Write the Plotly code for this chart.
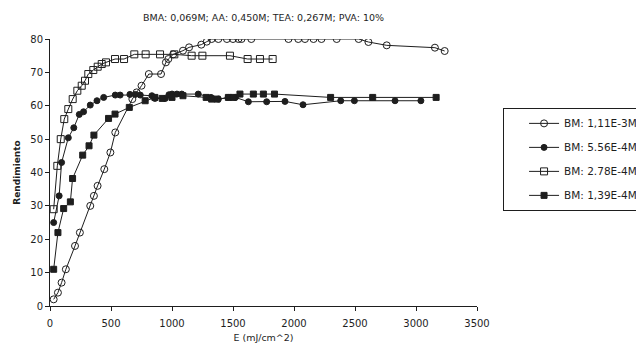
import plotly.graph_objects as go

title_text = "BMA: 0,069M; AA: 0,450M; TEA: 0,267M; PVA: 10%"
series_names = ["BM: 1,11E-3M", "BM: 5.56E-4M", "BM: 2.78E-4M", "BM: 1,39E-4M"]

# BM 1.11E-3M (open circles)
x1 = [30, 65, 95, 130, 205, 245, 330, 360, 390, 445, 495, 535, 675, 710, 750, 810, 910, 950, 970,
      1010, 1090, 1140, 1240, 1285, 1325, 1380, 1450, 1500, 1545, 1570, 1650, 1955, 2035, 2090,
      2160, 2225, 2350, 2530, 2610, 2760, 3155, 3235]
y1 = [2, 4, 7, 11, 18, 22, 30, 33, 36, 41, 46, 52, 62, 64, 66, 69.5, 69.5, 73, 74,
      75.4, 76.5, 77.5, 78.3, 79.2, 80, 80, 80, 80, 80, 80, 80, 80, 80, 80,
      80, 80, 80, 80, 79.1, 78.1, 77.4, 76.4]

# BM 5.56E-4M (filled circles)
x2 = [30, 75, 95, 150, 195, 240, 275, 330, 385, 440, 535, 575, 655, 700, 740, 835, 860, 945, 975,
      1000, 1040, 1080, 1215, 1320, 1380, 1460, 1520, 1626, 1776, 1926, 2074, 2383, 2495, 2828, 3040]
y2 = [25, 33, 43, 50.4, 53.4, 57.4, 58.2, 60.2, 61.5, 62.5, 63.2, 63.2, 63.4, 63.4, 63.2, 63, 62.2, 62.2, 63.3,
      63.5, 63.5, 63.5, 63.5, 62.5, 62, 62.5, 62.5, 61.2, 61.2, 61.3, 60.3, 61.5, 61.5, 61.5, 61.5]

# BM 2.78E-4M (open squares)
x3 = [30, 60, 88, 117, 150, 186, 224, 260, 287, 314, 355, 391, 424, 459, 533, 607, 691, 784,
      902, 1019, 1161, 1249, 1475, 1620, 1721, 1825]
y3 = [29, 42, 50, 56, 59, 62, 64.5, 66, 67.5, 69.5, 70.7, 71.7, 72.5, 73, 74, 74, 75.4, 75.4,
      75.4, 75.4, 75, 75, 75, 74, 74, 74]

# BM 1.39E-4M (filled squares)
x4 = [30, 65, 112, 167, 185, 268, 320, 360, 480, 533, 650, 780, 860, 920, 1000, 1090, 1280, 1325,
      1370, 1462, 1503, 1557, 1667, 1749, 1840, 2300, 2645, 3165]
y4 = [11, 22, 29.2, 31.2, 38.2, 45.2, 48, 51.2, 56.2, 57.5, 59.5, 61.5, 62.5, 62.2, 62.5, 63, 62.5, 62,
      62, 62.5, 62.5, 63.5, 63.5, 63.5, 63.5, 62.5, 62.5, 62.5]

x_ticks = [0, 500, 1000, 1500, 2000, 2500, 3000, 3500]
y_ticks = [0, 10, 20, 30, 40, 50, 60, 70, 80]

ink = "#1e1e1e"
font_family = "DejaVu Sans"

styles = [
    dict(symbol="circle-open", size=7),
    dict(symbol="circle", size=6),
    dict(symbol="square-open", size=7),
    dict(symbol="square", size=6),
]

fig = go.Figure()
for i, (xs, ys) in enumerate([(x1, y1), (x2, y2), (x3, y3), (x4, y4)]):
    st = styles[i]
    fig.add_trace(go.Scatter(
        x=xs, y=ys, mode="lines+markers", name=series_names[i],
        legendgroup=f"g{i}",
        line=dict(color=ink, width=1),
        marker=dict(symbol=st["symbol"], size=st["size"], color=ink,
                    line=dict(color=ink, width=1)),
    ))

fig.update_layout(
    width=636, height=352,
    margin=dict(l=50, r=159, t=39, b=46, autoexpand=False),
    paper_bgcolor="white", plot_bgcolor="white",
    font=dict(family=font_family, size=10, color=ink),
    title=dict(text=title_text, x=0.5, xanchor="center", xref="paper",
               y=0.95, yanchor="middle", font=dict(size=9.5, color=ink)),
    showlegend=True,
    legend=dict(x=1.061, xanchor="left", y=0.742, yanchor="top",
                bordercolor=ink, borderwidth=1, bgcolor="white",
                font=dict(size=10.5, color=ink), tracegroupgap=5,
                itemwidth=30, indentation=20),
    xaxis=dict(range=[0, 3500], tickvals=x_ticks, ticks="outside", ticklen=4,
               tickcolor=ink, showline=True, linecolor=ink, linewidth=1,
               showgrid=False, zeroline=False, ticklabelstandoff=4,
               title=dict(text="E (mJ/cm^2)", standoff=6,
                          font=dict(size=9.5, color=ink))),
    yaxis=dict(range=[0, 80], tickvals=y_ticks, ticks="outside", ticklen=4,
               tickcolor=ink, showline=True, linecolor=ink, linewidth=1,
               showgrid=False, zeroline=False,
               title=dict(text="<b>Rendimiento</b>", standoff=8,
                          font=dict(size=9, color=ink))),
)

fig.write_html("out.html")
